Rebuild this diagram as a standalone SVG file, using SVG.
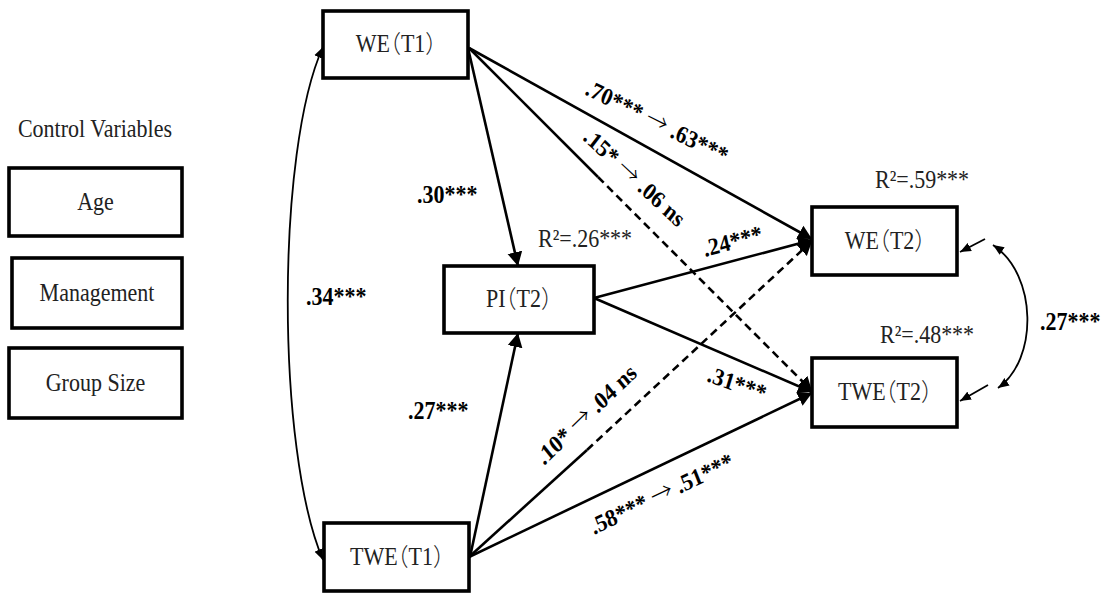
<svg xmlns="http://www.w3.org/2000/svg" width="1115" height="594" viewBox="0 0 1115 594">
<style>
.box{fill:#fff;stroke:#000;stroke-width:3.6}
.t{font-family:"Liberation Serif","Times New Roman",Times,"DejaVu Serif",serif;font-size:22px;fill:#222}
.k{font-family:"Noto Sans CJK SC","Noto Sans CJK JP",sans-serif;font-weight:300}
.h{font-feature-settings:"halt" 1}
.c{text-anchor:middle}
.b{font-weight:bold;fill:#000}
.p{fill:none;stroke:#000;stroke-width:2.6}
.d{stroke-dasharray:8 5}
.cv{fill:none;stroke:#000;stroke-width:1.8}
</style>
<defs>
<marker id="ah" markerUnits="userSpaceOnUse" markerWidth="16" markerHeight="16" refX="14" refY="8" orient="auto">
<path d="M0,0.5 L14,8 L0,15.5 z" fill="#000"/>
</marker>
<marker id="sh" markerUnits="userSpaceOnUse" markerWidth="12" markerHeight="10" refX="11" refY="5" orient="auto">
<path d="M0,0.5 L11,5 L0,9.5 z" fill="#000"/>
</marker>
<marker id="shs" markerUnits="userSpaceOnUse" markerWidth="12" markerHeight="10" refX="11" refY="5" orient="auto-start-reverse">
<path d="M0,0.5 L11,5 L0,9.5 z" fill="#000"/>
</marker>
</defs>
<rect width="1115" height="594" fill="#fff"/>

<g id="connectors">
<path class="cv" d="M323,47 C276,150 276,450 323,560" marker-start="url(#shs)" marker-end="url(#shs)"/>
<path class="cv" d="M993,245 C1038,275 1038,360 998,388" marker-start="url(#shs)" marker-end="url(#shs)"/>
<line class="p" x1="468" y1="48" x2="518" y2="266" marker-end="url(#ah)"/>
<line class="p" x1="469" y1="48" x2="812" y2="239" marker-end="url(#ah)"/>
<line class="p" x1="469" y1="48" x2="598" y2="177"/>
<line class="p d" x1="598" y1="177" x2="812" y2="391" marker-end="url(#ah)"/>
<line class="p" x1="594" y1="298" x2="812" y2="240" marker-end="url(#ah)"/>
<line class="p" x1="594" y1="298" x2="812" y2="392" marker-end="url(#ah)"/>
<line class="p" x1="470" y1="557" x2="518" y2="333" marker-end="url(#ah)"/>
<line class="p" x1="469" y1="557" x2="587" y2="450"/>
<line class="p d" x1="587" y1="450" x2="812" y2="241" marker-end="url(#ah)"/>
<line class="p" x1="469" y1="557" x2="812" y2="393" marker-end="url(#ah)"/>
<line class="cv" x1="985" y1="239" x2="960" y2="252" marker-end="url(#sh)"/>
<line class="cv" x1="988" y1="385" x2="960" y2="401" marker-end="url(#sh)"/>
</g>

<g id="labels">
<text class="t c" transform="translate(95 137) scale(1 1.1)">Control Variables</text>
<text class="t b" transform="translate(417 203) scale(1 1.1)">.30***</text>
<text class="t b" transform="translate(306 305) scale(1 1.1)">.34***</text>
<text class="t b" transform="translate(408 419) scale(1 1.1)">.27***</text>
<text class="t b" transform="translate(1040 330) scale(1 1.1)">.27***</text>
<text class="t" transform="translate(538 247) scale(1 1.1)">R²=.26***</text>
<text class="t" transform="translate(875 188) scale(1 1.1)">R²=.59***</text>
<text class="t" transform="translate(880 343) scale(1 1.1)">R²=.48***</text>
<text class="t b" transform="translate(584 94) scale(1 1.1) rotate(24.5)">.70*** <tspan class="k">→</tspan> .63***</text>
<text class="t b" transform="translate(582 139) scale(1 1.1) rotate(40.3)">.15* <tspan class="k">→</tspan> .06 ns</text>
<text class="t b" transform="translate(705 257) scale(1 1.1) rotate(-13.7)">.24***</text>
<text class="t b" transform="translate(706 381) scale(1 1.1) rotate(18.3)">.31***</text>
<text class="t b" transform="translate(544 466) scale(1 1.1) rotate(-41.3)">.10* <tspan class="k">→</tspan> .04 ns</text>
<text class="t b" transform="translate(594 535) scale(1 1.1) rotate(-23.5)">.58*** <tspan class="k">→</tspan> .51***</text>
</g>

<g id="age"><rect class="box" x="9" y="168" width="173" height="68"/><text class="t c" transform="translate(95.5 210) scale(1 1.1)">Age</text></g>
<g id="management"><rect class="box" x="12" y="258" width="170" height="70"/><text class="t c" transform="translate(97 301) scale(1 1.1)">Management</text></g>
<g id="groupsize"><rect class="box" x="9" y="348" width="173" height="70"/><text class="t c" transform="translate(95.5 391) scale(1 1.1)">Group Size</text></g>

<g id="we_t1"><rect class="box" x="323" y="11" width="145" height="67"/><text class="t c" transform="translate(396 52) scale(1 1.1)">WE<tspan class="k h">（</tspan>T1<tspan class="k h">）</tspan></text></g>
<g id="twe_t1"><rect class="box" x="324" y="523" width="145" height="68"/><text class="t c" transform="translate(397 565) scale(1 1.1)">TWE<tspan class="k h">（</tspan>T1<tspan class="k h">）</tspan></text></g>
<g id="pi_t2"><rect class="box" x="444" y="266" width="150" height="67"/><text class="t c" transform="translate(519 307) scale(1 1.1)">PI<tspan class="k h">（</tspan>T2<tspan class="k h">）</tspan></text></g>
<g id="we_t2"><rect class="box" x="812" y="207" width="145" height="68"/><text class="t c" transform="translate(885 249) scale(1 1.1)">WE<tspan class="k h">（</tspan>T2<tspan class="k h">）</tspan></text></g>
<g id="twe_t2"><rect class="box" x="812" y="358" width="145" height="69"/><text class="t c" transform="translate(885 400) scale(1 1.1)">TWE<tspan class="k h">（</tspan>T2<tspan class="k h">）</tspan></text></g>
</svg>
